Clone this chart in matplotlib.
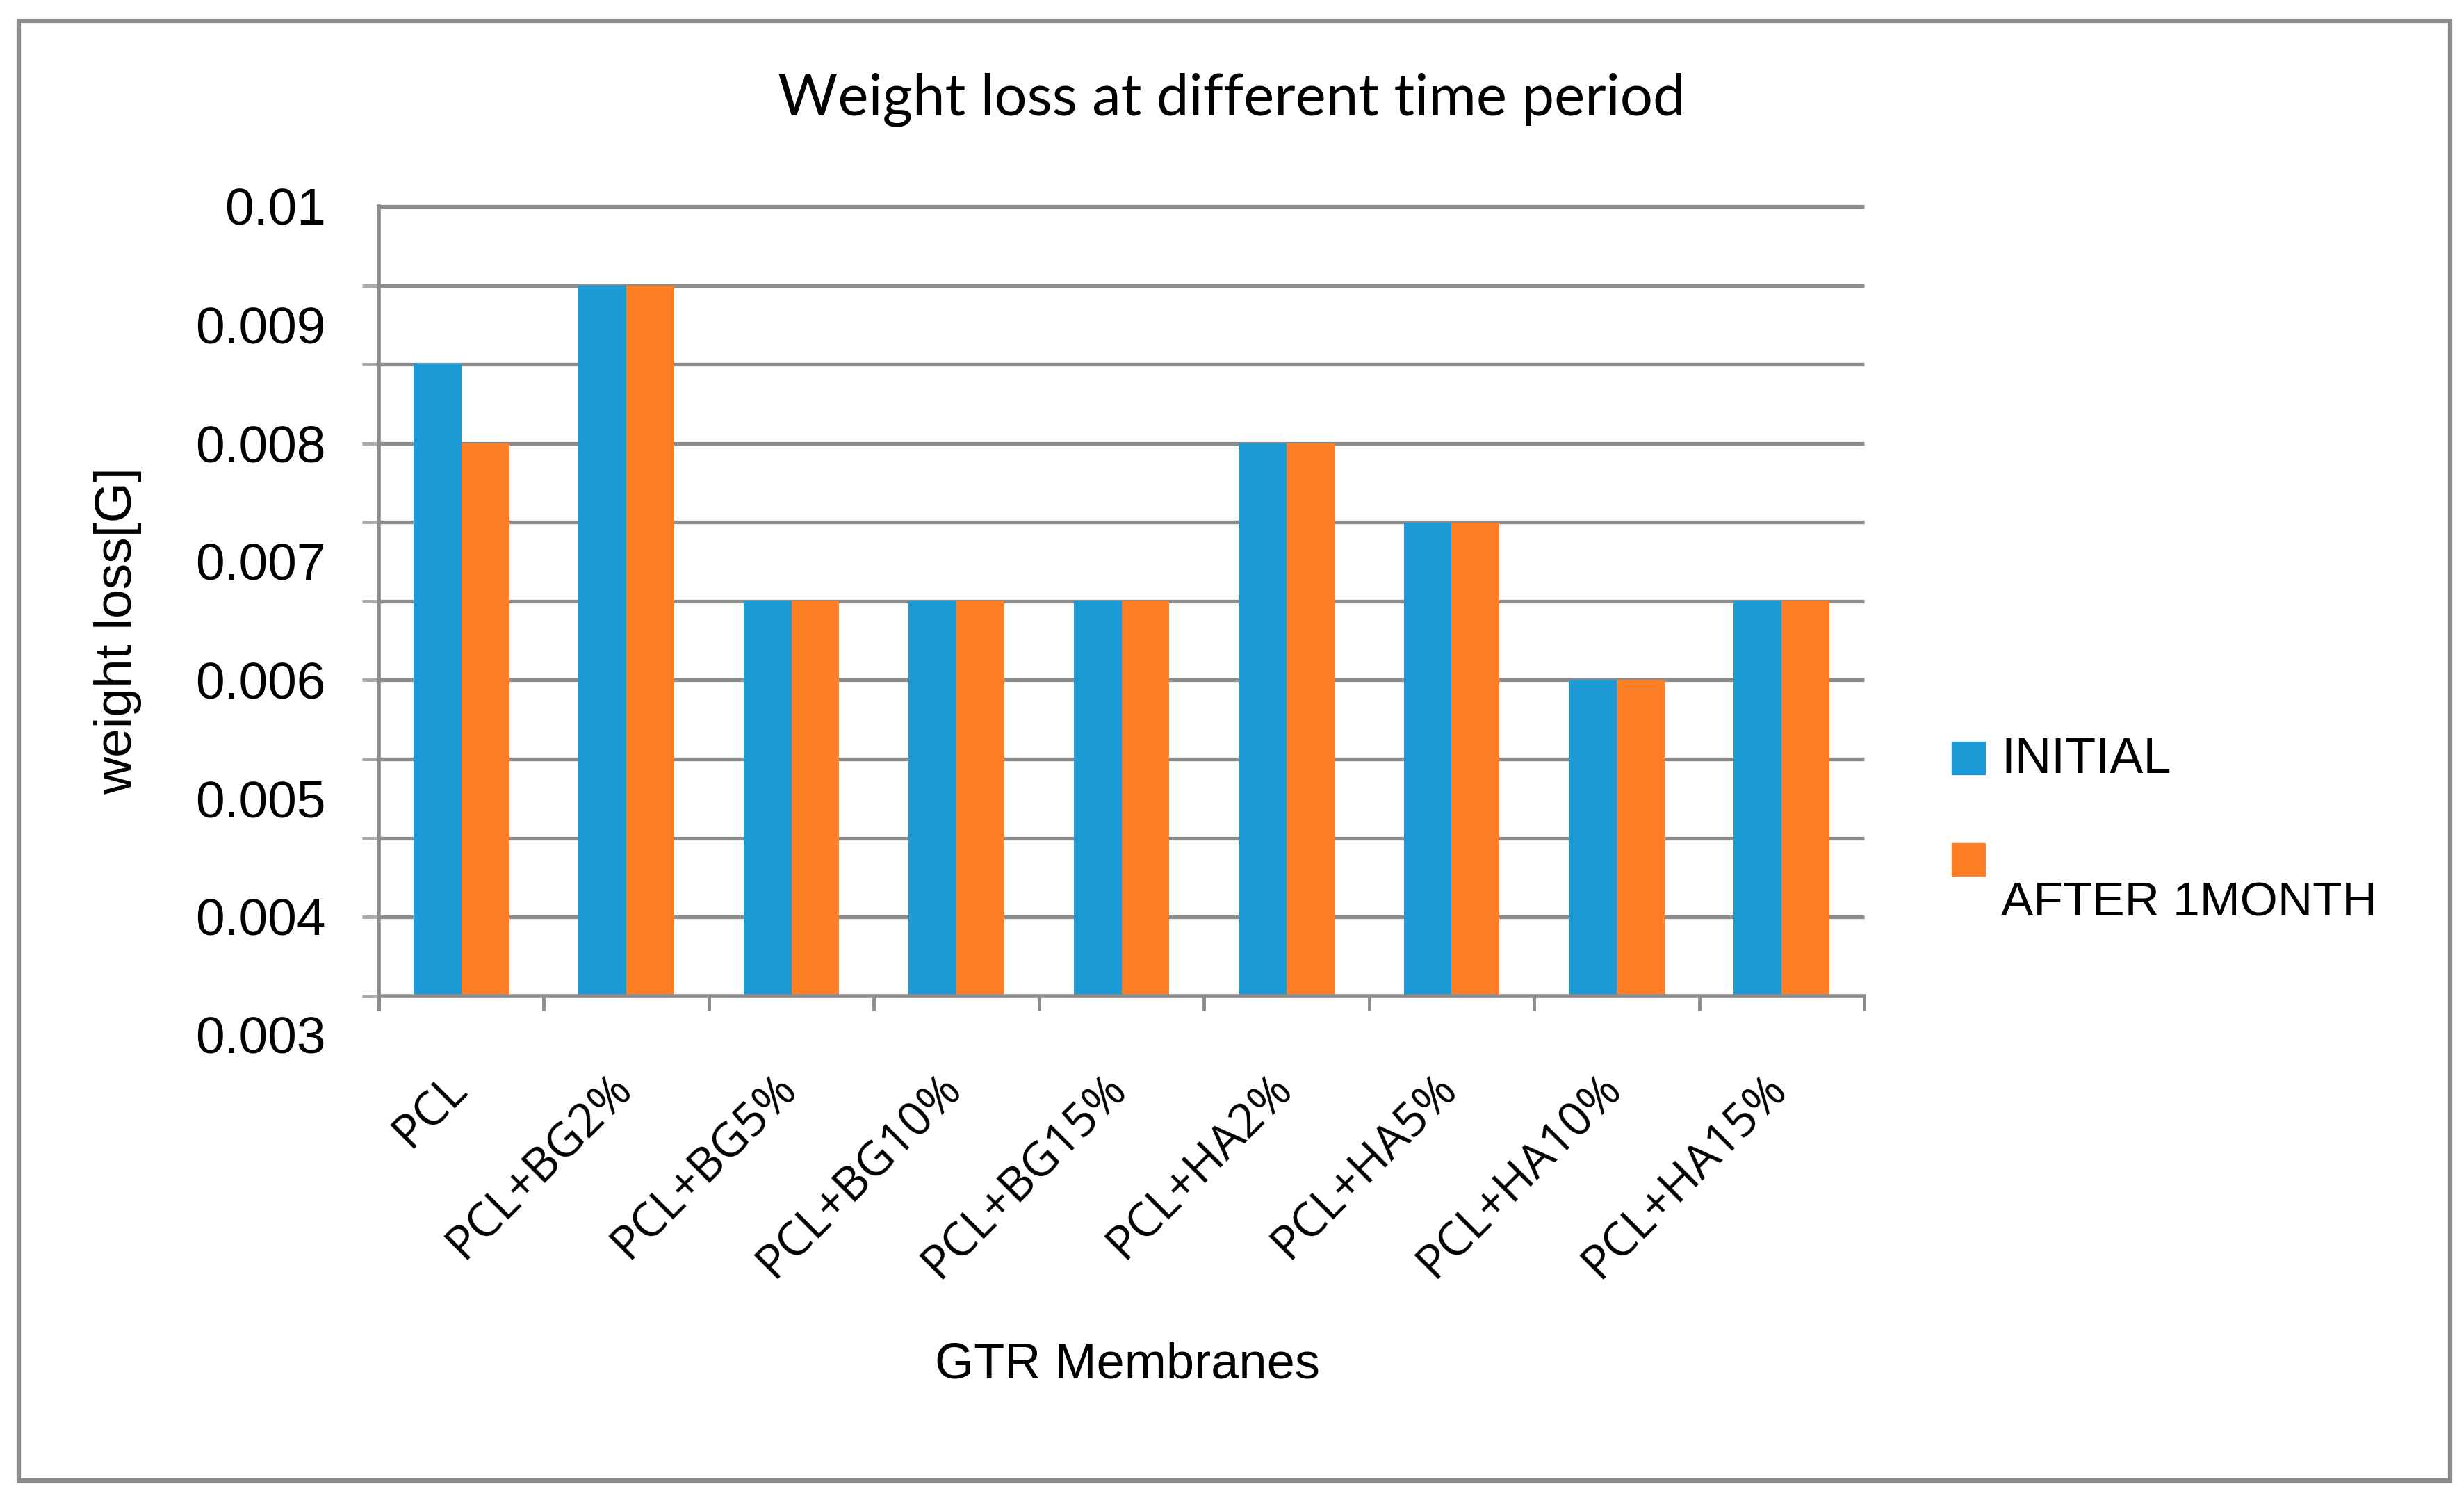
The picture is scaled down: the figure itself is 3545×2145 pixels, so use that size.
import matplotlib
matplotlib.use("Agg")
import matplotlib.pyplot as plt
from matplotlib.patches import Rectangle
from matplotlib.transforms import ScaledTranslation
import numpy as np

# data (y in axis-label units)
categories = ['PCL', 'PCL+BG2%', 'PCL+BG5%', 'PCL+BG10%', 'PCL+BG15%',
              'PCL+HA2%', 'PCL+HA5%', 'PCL+HA10%', 'PCL+HA15%']
initial = [0.00867, 0.00933, 0.00667, 0.00667, 0.00667, 0.008, 0.00733, 0.006, 0.00667]
after_1month = [0.008, 0.00933, 0.00667, 0.00667, 0.00667, 0.008, 0.00733, 0.006, 0.00667]
series_names = ['INITIAL', 'AFTER 1MONTH']
ytick_values = [0.003, 0.004, 0.005, 0.006, 0.007, 0.008, 0.009, 0.01]
ytick_labels = ['0.003', '0.004', '0.005', '0.006', '0.007', '0.008', '0.009', '0.01']
base = 0.00333

BLUE = '#1b9ad6'
ORANGE = '#fe7f26'
GREY = '#8c8c8c'

W, H = 3545, 2145
fig = plt.figure(figsize=(W / 100, H / 100), dpi=100)

# axes placed so 0.01 -> y=297px and 0.003 -> y=1489px
left, right, top, bottom = 545, 2682, 297, 1489
ax = fig.add_axes([left / W, 1 - bottom / H, (right - left) / W, (bottom - top) / H])
ax.set_xlim(-0.5, len(categories) - 0.5)
ax.set_ylim(0.003, 0.01)

x = np.arange(len(categories))
w = 0.29
ax.bar(x - w / 2, np.array(initial) - base, w, bottom=base, color=BLUE, zorder=3)
ax.bar(x + w / 2, np.array(after_1month) - base, w, bottom=base, color=ORANGE, zorder=3)

# gridlines (10 bands between base and top)
grid = base + np.arange(11) * (0.01 - base) / 10
ax.hlines(grid[1:], -0.5, len(categories) - 0.5, color=GREY, lw=3.8, zorder=1, clip_on=False)
ax.set_yticks(grid, minor=True)
ax.tick_params(axis='y', which='minor', length=17, width=3.5, color='#a8a8a8', direction='out')
ax.set_yticks(ytick_values)
ax.set_yticklabels(ytick_labels, family='Liberation Sans', fontsize=54)
ax.tick_params(axis='y', which='major', length=0, pad=55)

for s in ['top', 'right']:
    ax.spines[s].set_visible(False)
ax.spines['left'].set_bounds(0.00322, 0.01)
ax.spines['left'].set_color(GREY)
ax.spines['left'].set_linewidth(4)
ax.spines['bottom'].set_position(('data', base))
ax.spines['bottom'].set_color(GREY)
ax.spines['bottom'].set_linewidth(4)
ax.spines['bottom'].set_zorder(4)

ax.set_xticks(np.arange(len(categories) + 1) - 0.5, minor=True)
ax.tick_params(axis='x', which='minor', length=15, width=3.5, color=GREY, direction='out')
ax.set_xticks(x)
ax.set_xticklabels(categories, rotation=45, ha='right', rotation_mode='anchor',
                   family='Open Sans', fontsize=49)
ax.tick_params(axis='x', which='major', length=0, pad=71)
shift = ScaledTranslation(-0.27, 0, fig.dpi_scale_trans)
for lbl in ax.get_xticklabels():
    lbl.set_transform(lbl.get_transform() + shift)

# texts
fig.text(1772 / W, 1 - 143 / H, 'Weight loss at different time period',
         ha='center', va='center', family='Lato', fontsize=60)
fig.text(170 / W, 1 - 908 / H, 'weight loss[G]', rotation=90,
         ha='center', va='center', family='Liberation Sans', fontsize=54)
fig.text(1622 / W, 1 - 1964 / H, 'GTR Membranes',
         ha='center', va='center', family='Liberation Sans', fontsize=52)

# legend drawn by hand (second label sits lower than its key)
fig.add_artist(Rectangle((2808 / W, 1 - 1114 / H), 48 / W, 47 / H,
                         transform=fig.transFigure, color=BLUE))
fig.add_artist(Rectangle((2808 / W, 1 - 1260 / H), 48 / W, 47 / H,
                         transform=fig.transFigure, color=ORANGE))
fig.text(2879 / W, 1 - 1094 / H, series_names[0], ha='left', va='center',
         family='Liberation Sans', fontsize=52)
fig.text(2879 / W, 1 - 1299 / H, series_names[1], ha='left', va='center',
         family='Liberation Sans', fontsize=50)

# outer frame
fig.add_artist(Rectangle((27 / W, 1 - 2130 / H), (3525 - 27) / W, (2130 - 30) / H,
                         transform=fig.transFigure, fill=False,
                         edgecolor=GREY, lw=4.5))

fig.savefig('out.png', dpi=100)
